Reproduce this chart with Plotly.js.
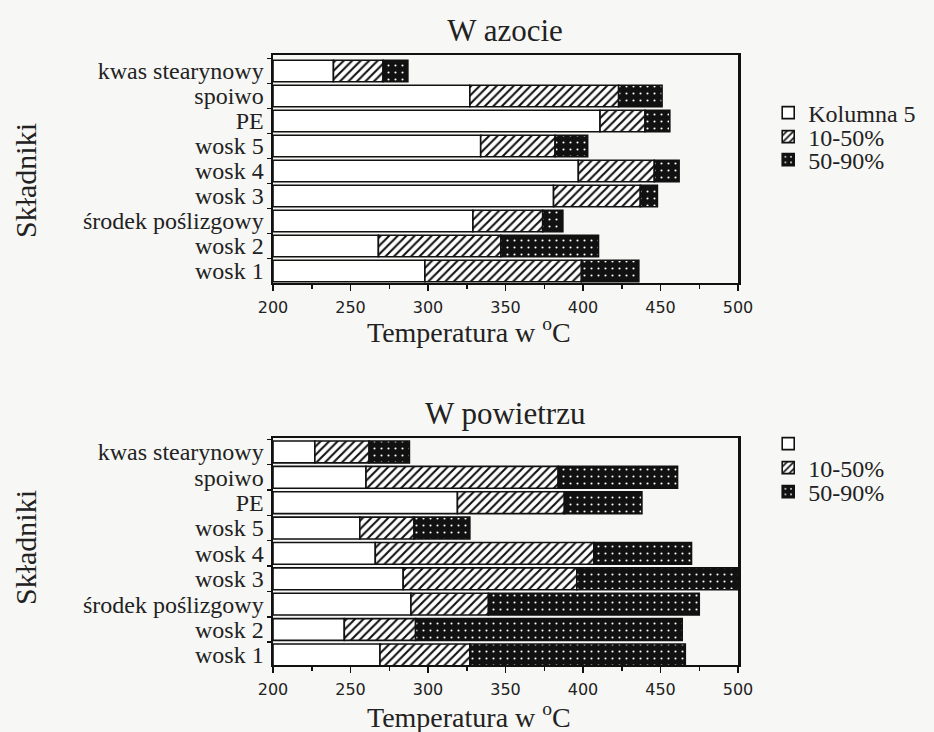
<!DOCTYPE html>
<html>
<head>
<meta charset="utf-8">
<script src="https://cdn.plot.ly/plotly-3.0.1.min.js"></script>
<style>
  html, body { margin: 0; padding: 0; background: #f7f7f5; }
  #chart { width: 934px; height: 732px; }
</style>
</head>
<body>
<div id="chart"></div>
<script>
// ---- data ----
const categories = ['wosk 1', 'wosk 2', 'środek poślizgowy', 'wosk 3', 'wosk 4', 'wosk 5', 'PE', 'spoiwo', 'kwas stearynowy'];
const startTemp = 200;
// W azocie (nitrogen)
const n2_t10 = [298, 268, 329, 381, 397, 334, 411, 327, 239];
const n2_t50 = [399, 347, 374, 437, 446, 382, 440, 423, 271];
const n2_t90 = [436, 410, 387, 448, 462, 403, 456, 451, 287];
// W powietrzu (air)
const air_t10 = [269, 246, 289, 284, 266, 256, 319, 260, 227];
const air_t50 = [327, 292, 339, 396, 407, 291, 388, 384, 262];
const air_t90 = [466, 464, 475, 500, 470, 327, 438, 461, 288];
const seriesNames = ['Kolumna 5', '10-50%', '50-90%'];
const seriesNamesAir = [' ', '10-50%', '50-90%'];
const xTicks = [200, 250, 300, 350, 400, 450, 500];

const serif = 'Liberation Serif, Times New Roman, serif';
const sans = 'DejaVu Sans, Arial, sans-serif';
const lineStyle = { color: '#111', width: 1.6 };

function diff(a, b) { return a.map((v, i) => v - b[i]); }

const markers = [
  { color: '#ffffff', line: lineStyle },
  { color: '#ffffff', line: lineStyle, pattern: { shape: '/', fgcolor: '#111', bgcolor: '#ffffff', size: 6, solidity: 0.35 } },
  { color: '#111111', line: lineStyle, pattern: { shape: '.', fgcolor: '#ffffff', bgcolor: '#111111', size: 7, solidity: 0.07 } }
];

function makeTraces(t10, t50, t90, names, xa, ya, legendIds) {
  const base0 = categories.map(() => startTemp);
  const bases = [base0, t10, t50];
  const lens = [diff(t10, base0), diff(t50, t10), diff(t90, t50)];
  return lens.map((len, k) => ({
    type: 'bar', orientation: 'h',
    y: categories, x: len, base: bases[k],
    name: names[k], xaxis: xa, yaxis: ya, legend: legendIds[k],
    marker: markers[k], hoverinfo: 'skip'
  }));
}

const data = [].concat(
  makeTraces(n2_t10, n2_t50, n2_t90, seriesNames, 'x', 'y', ['legend', 'legend2', 'legend3']),
  makeTraces(air_t10, air_t50, air_t90, seriesNamesAir, 'x2', 'y2', ['legend4', 'legend5', 'legend6'])
);

function xAxis(anchor) {
  return {
    anchor: anchor, domain: [0, 1], range: [200, 500],
    tickmode: 'array', tickvals: xTicks, ticks: 'outside', ticklen: 6, tickwidth: 1.5, tickcolor: '#111',
    minor: { dtick: 25, tick0: 200, ticks: 'outside', ticklen: 4, tickcolor: '#111' },
    showline: true, linecolor: '#111', linewidth: 2, mirror: true,
    showgrid: false, zeroline: false, fixedrange: true,
    tickfont: { family: sans, size: 16, color: '#222' }, ticklabelstandoff: 3
  };
}
function yAxis(anchor, domain, range) {
  return {
    anchor: anchor, domain: domain, range: range, type: 'category',
    tickmode: 'array', tickvals: categories, ticktext: categories,
    tickson: 'boundaries', ticks: 'outside', ticklen: 4, tickwidth: 1.5, tickcolor: '#111',
    showline: true, linecolor: '#111', linewidth: 2.5, mirror: true,
    showgrid: false, zeroline: false, fixedrange: true,
    tickfont: { family: serif, size: 24, color: '#222' }, ticklabelstandoff: 2
  };
}

function py(pixY) { return 1 - (pixY - 55) / 610; }
function legendAt(pixY) {
  return { x: 1.065, xanchor: 'left', y: py(pixY), yanchor: 'middle', bgcolor: 'rgba(0,0,0,0)',
           font: { family: serif, size: 24, color: '#222' }, itemwidth: 30, tracegroupgap: 0 };
}

const layout = {
  width: 934, height: 732,
  paper_bgcolor: '#f7f7f5', plot_bgcolor: '#f7f7f5',
  margin: { l: 273, r: 196, t: 55, b: 67 },
  barmode: 'overlay', bargap: 0.14,
  showlegend: true,
  title: { text: 'W azocie', font: { family: serif, size: 31, color: '#222' }, x: 505 / 934, xanchor: 'center', y: 1 - 30 / 732, yanchor: 'middle' },
  xaxis: xAxis('y'),
  yaxis: yAxis('x', [0.6262, 1], [-0.48, 8.64]),
  xaxis2: xAxis('y2'),
  yaxis2: yAxis('x2', [0, 0.3721], [-0.4, 8.55]),
  legend: legendAt(113),
  legend2: legendAt(137),
  legend3: legendAt(160),
  legend4: legendAt(444),
  legend5: legendAt(468),
  legend6: legendAt(492),
  annotations: [
    { text: 'W powietrzu', xref: 'paper', yref: 'paper', x: (505 - 273) / 465, y: py(413), xanchor: 'center', yanchor: 'middle', showarrow: false, font: { family: serif, size: 31, color: '#222' } },
    { text: 'Temperatura w <sup>o</sup>C', xref: 'paper', yref: 'paper', x: (469 - 273) / 465, y: py(331), xanchor: 'center', yanchor: 'middle', showarrow: false, font: { family: serif, size: 28, color: '#222' } },
    { text: 'Temperatura w <sup>o</sup>C', xref: 'paper', yref: 'paper', x: (469 - 273) / 465, y: py(715), xanchor: 'center', yanchor: 'middle', showarrow: false, font: { family: serif, size: 28, color: '#222' } },
    { text: 'Składniki', xref: 'paper', yref: 'paper', x: (25 - 273) / 465, y: py(181), xanchor: 'center', yanchor: 'middle', textangle: -90, showarrow: false, font: { family: serif, size: 30, color: '#222' } },
    { text: 'Składniki', xref: 'paper', yref: 'paper', x: (25 - 273) / 465, y: py(548), xanchor: 'center', yanchor: 'middle', textangle: -90, showarrow: false, font: { family: serif, size: 30, color: '#222' } }
  ]
};

Plotly.newPlot('chart', data, layout, { displayModeBar: false, staticPlot: true });
</script>
</body>
</html>
